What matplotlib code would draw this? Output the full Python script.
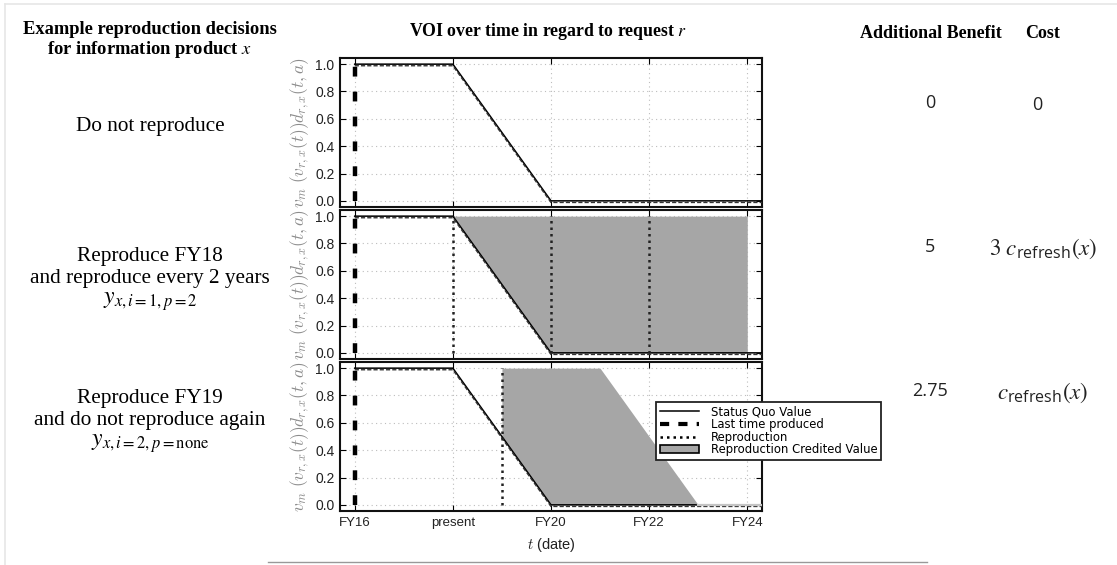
import matplotlib
matplotlib.use("Agg")
import matplotlib.pyplot as plt
import matplotlib.transforms as mtransforms
from matplotlib.lines import Line2D
from matplotlib.patches import Patch

# ---- data -------------------------------------------------------------
tick_pos = [16, 18, 20, 22, 24]
tick_labels = ["FY16", "present", "FY20", "FY22", "FY24"]
y_ticks = [0.0, 0.2, 0.4, 0.6, 0.8, 1.0]

# status quo value: full until present, linear decay to zero at FY20
sq_t = [16, 18, 20, 24.5]
sq_v = [1.0, 1.0, 0.0, 0.0]

last_produced = 16

# scenario 2: reproduce FY18 and every 2 years
repro_2 = [18, 20, 22]
credit2_t = [18, 20, 24]
credit2_top = [1.0, 1.0, 1.0]
credit2_bot = [1.0, 0.0, 0.0]

# scenario 3: reproduce FY19 once
repro_3 = [19]
credit3_t = [19, 20, 21, 23]
credit3_top = [1.0, 1.0, 1.0, 0.0]
credit3_bot = [0.5, 0.0, 0.0, 0.0]
tail3_t = [23, 24.5]
tail3_v = [0.0, 0.0]

row_titles = [
    ["Do not reproduce"],
    ["Reproduce FY18", "and reproduce every 2 years"],
    ["Reproduce FY19", "and do not reproduce again"],
]
row_math = [None, r"$y_{x,i=1,p=2}$", r"$y_{x,i=2,p=\mathrm{none}}$"]
benefits = ["0", "5", "2.75"]
costs = ["0", r"$3\ c_{\mathregular{refresh}}(x)$", r"$c_{\mathregular{refresh}}(x)$"]

FILL = "#a6a6a6"
W, H = 1117, 565

fig = plt.figure(figsize=(W / 100, H / 100), dpi=100)


def fx(px):
    return px / W


def fy(py):
    return 1 - py / H


ax_left, ax_right = 340, 762
panel_tops = [58, 210, 362]
panel_h = 149

axes = []
for top in panel_tops:
    ax = fig.add_axes([fx(ax_left), fy(top + panel_h), fx(ax_right - ax_left), panel_h / H])
    axes.append(ax)

ylabel = r"$v_m\ (v_{r,x}(t))d_{r,x}(t,a)$"
sans = "Liberation Sans"

for i, ax in enumerate(axes):
    ax.set_xlim(15.7, 24.3)
    ax.set_ylim(-0.045, 1.045)
    ax.set_xticks(tick_pos)
    ax.set_yticks(y_ticks)
    ax.set_yticklabels([f"{v:.1f}" for v in y_ticks], fontsize=10, color="#222222", family=sans)
    if i == 2:
        ax.set_xticklabels(tick_labels, fontsize=9.5, color="#222222", family=sans)
        ax.set_xlabel(r"$t$ (date)", fontsize=10.5, color="#222222", family=sans,
                      labelpad=5, math_fontfamily="cm")
    else:
        ax.set_xticklabels([])
    ax.tick_params(direction="in", top=True, right=True, length=4, width=0.8, pad=4)
    ax.grid(True, linestyle=(0, (1, 3)), color="#bdbdbd", linewidth=0.8)
    ax.set_axisbelow(True)
    for sp in ax.spines.values():
        sp.set_linewidth(1.5)
        sp.set_color("#111111")
    ax.set_ylabel(ylabel, fontsize=12.5, color="#8c8c8c", math_fontfamily="cm", labelpad=2)

    # credited value regions
    if i == 1:
        ax.fill_between(credit2_t, credit2_bot, credit2_top, color=FILL, linewidth=0, zorder=1)
    if i == 2:
        ax.fill_between(credit3_t, credit3_bot, credit3_top, color=FILL, linewidth=0, zorder=1)

    # status quo value (solid) with the produced-value trace just beside it
    ax.plot(sq_t, sq_v, color="black", linewidth=1.1, zorder=3)
    shift = mtransforms.offset_copy(ax.transData, fig=fig, x=0, y=-1.6, units="dots")
    ax.plot(sq_t, sq_v, color="#333333", linewidth=1.0, dashes=(3, 1.5),
            transform=shift, zorder=3)

    if i == 2:
        ax.plot(tail3_t, tail3_v, color="#c4c4c4", linewidth=1.6, zorder=3.5)

    # last time produced
    ax.plot([last_produced, last_produced], [0, 1], color="black", linewidth=3.2,
            dashes=(2.2, 3.4), zorder=4)

    # reproductions
    reps = repro_2 if i == 1 else repro_3 if i == 2 else []
    for r in reps:
        ax.plot([r, r], [0, 1], color="#222222", linewidth=1.8, dashes=(1, 1.6), zorder=4)

# legend
handles = [
    Line2D([], [], color="black", linewidth=1.1),
    Line2D([], [], color="black", linewidth=3.0, dashes=(2.2, 2.2)),
    Line2D([], [], color="black", linewidth=1.8, dashes=(1, 1.6)),
    Patch(facecolor=FILL, edgecolor="black", linewidth=1.2),
]
labels = ["Status Quo Value", "Last time produced", "Reproduction", "Reproduction Credited Value"]
leg = fig.legend(handles, labels, loc="upper left", bbox_to_anchor=(fx(656), fy(402)),
                 bbox_transform=fig.transFigure, borderaxespad=0, fancybox=False,
                 prop={"family": "DejaVu Sans", "size": 8.4}, labelspacing=-0.03,
                 borderpad=0.3, handlelength=3.4, handletextpad=1.0, framealpha=1)
leg.get_frame().set_edgecolor("#222222")
leg.get_frame().set_linewidth(1.3)
leg.set_zorder(10)

# headers
serif = "Liberation Serif"
fig.text(fx(150), fy(30), "Example reproduction decisions", ha="center", va="center",
         fontsize=13.3, fontweight="bold", family=serif)
fig.text(fx(150), fy(50), r"for information product $x$", ha="center", va="center",
         fontsize=13.3, fontweight="bold", family=serif, math_fontfamily="stix")
fig.text(fx(548), fy(31), r"VOI over time in regard to request $r$", ha="center", va="center",
         fontsize=12.8, fontweight="bold", family=serif, math_fontfamily="stix")
fig.text(fx(931), fy(33), "Additional Benefit", ha="center", va="center",
         fontsize=13, fontweight="bold", family=serif)
fig.text(fx(1043), fy(34), "Cost", ha="center", va="center",
         fontsize=13, fontweight="bold", family=serif)

# row descriptions
row_y = [[126], [257, 279], [398, 420]]
math_y = [None, 301, 443]
for k in range(3):
    for line, yy in zip(row_titles[k], row_y[k]):
        fig.text(fx(150), fy(yy), line, ha="center", va="center", fontsize=15.3, family=serif)
    if row_math[k]:
        fig.text(fx(150), fy(math_y[k]), row_math[k], ha="center", va="center",
                 fontsize=17, math_fontfamily="stix")

val_y = [103, 247, 391]
for k in range(3):
    fig.text(fx(930), fy(val_y[k]), benefits[k], ha="center", va="center",
             fontsize=13, family="Open Sans", color="#222222")
    fig.text(fx(1043 if k else 1037), fy(val_y[k] + 2), costs[k], ha="center", va="center",
             fontsize=16.5 if k else 13, family="Open Sans", color="#222222",
             math_fontfamily="stix")

# page decorations
fig.add_artist(Line2D([fx(5), 1], [fy(4), fy(4)], transform=fig.transFigure,
                      color="#e6e6e6", linewidth=1.2))
fig.add_artist(Line2D([fx(5), fx(5)], [fy(4), 0], transform=fig.transFigure,
                      color="#e6e6e6", linewidth=1.2))
fig.add_artist(Line2D([fx(268), fx(927)], [fy(562), fy(562)], transform=fig.transFigure,
                      color="#999999", linewidth=1.0))

fig.savefig("out.png", dpi=100)
